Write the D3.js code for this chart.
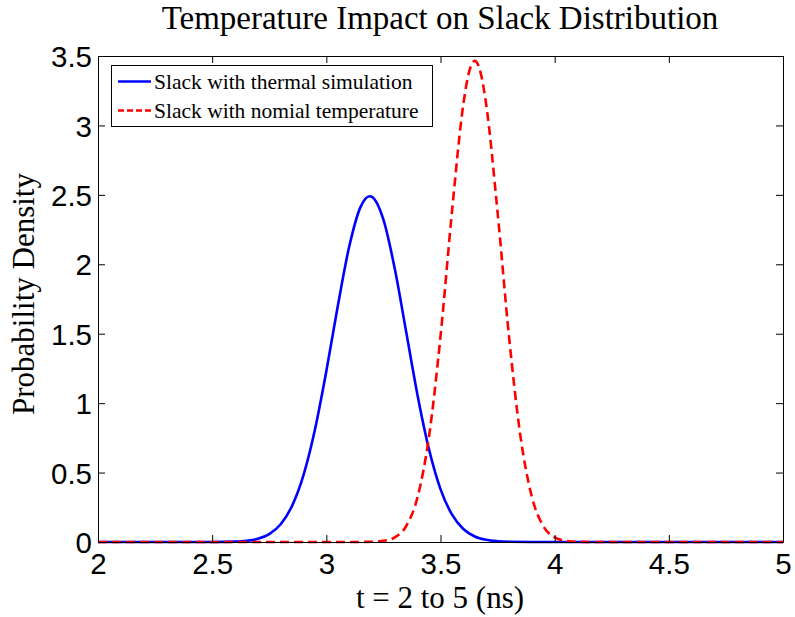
<!DOCTYPE html>
<html>
<head>
<meta charset="utf-8">
<script src="https://cdn.jsdelivr.net/npm/d3@7"></script>
<style>
  html, body { margin: 0; padding: 0; background: #fff; }
  svg { display: block; }
</style>
</head>
<body>
<svg id="chart" width="795" height="617"></svg>
<script>
// ---- Data ----
const titleText = "Temperature Impact on Slack Distribution";
const xLabelText = "t = 2 to 5 (ns)";
const yLabelText = "Probability Density";
const seriesNames = ["Slack with thermal simulation", "Slack with nomial temperature"];

const xTicks = [2, 2.5, 3, 3.5, 4, 4.5, 5];
const xTickLabels = ["2", "2.5", "3", "3.5", "4", "4.5", "5"];
const yTicks = [0, 0.5, 1, 1.5, 2, 2.5, 3, 3.5];
const yTickLabels = ["0", "0.5", "1", "1.5", "2", "2.5", "3", "3.5"];

// thermal simulation (blue)
const thermalX = [2, 2.5, 2.6, 2.65, 2.7, 2.75, 2.8, 2.85, 2.9, 2.95, 3.0, 3.05, 3.1, 3.15, 3.19, 3.2, 3.25, 3.3, 3.35, 3.4, 3.45, 3.5, 3.55, 3.6, 3.65, 3.7, 3.75, 3.8, 3.9, 4.0, 4.5, 5];
const thermalY = [0, 0, 0.0028, 0.0084, 0.0229, 0.0568, 0.1276, 0.2605, 0.4819, 0.8085, 1.2303, 1.698, 2.1257, 2.4133, 2.49, 2.4851, 2.321, 1.9659, 1.5102, 1.0523, 0.6651, 0.381, 0.1982, 0.0934, 0.0399, 0.0155, 0.0055, 0.0017, 0.0002, 0, 0, 0];

// nominal temperature (red dashed)
const nominalX = [2, 2.5, 3.0, 3.1, 3.2, 3.25, 3.3, 3.35, 3.4, 3.45, 3.5, 3.55, 3.6, 3.625, 3.65, 3.675, 3.7, 3.75, 3.8, 3.85, 3.9, 3.95, 4.0, 4.05, 4.1, 4.2, 4.5, 5];
const nominalY = [0, 0, 0, 0.0001, 0.0016, 0.0082, 0.0337, 0.1153, 0.3262, 0.7637, 1.480, 2.374, 3.152, 3.384, 3.465, 3.384, 3.152, 2.374, 1.480, 0.7637, 0.3262, 0.1153, 0.0337, 0.0082, 0.0016, 0.0001, 0, 0];

// ---- Layout ----
const svg = d3.select("#chart");
const plot = { left: 98, right: 783, top: 56, bottom: 542 };

const x = d3.scaleLinear().domain([2, 5]).range([plot.left, plot.right]);
const y = d3.scaleLinear().domain([0, 3.5]).range([plot.bottom, plot.top]);

const serif = "'Liberation Serif', 'Times New Roman', serif";
const sans = "'Liberation Sans', Arial, sans-serif";

// Curves
const line = d3.line()
  .x(d => x(d[0]))
  .y(d => y(d[1]))
  .curve(d3.curveMonotoneX);

const thermal = thermalX.map((v, i) => [v, thermalY[i]]);
const nominal = nominalX.map((v, i) => [v, nominalY[i]]);

const g = svg.append("g");

g.append("path")
  .datum(thermal)
  .attr("d", line)
  .attr("fill", "none")
  .attr("stroke", "#0000ff")
  .attr("stroke-width", 2.6);

g.append("path")
  .datum(nominal)
  .attr("d", line)
  .attr("fill", "none")
  .attr("stroke", "#ff0000")
  .attr("stroke-width", 2.6)
  .attr("stroke-dasharray", "9,5");

// Axes (MATLAB style box with inward ticks)
const tickLen = 7;
const axisColor = "#000";

const xAxisB = d3.axisBottom(x).tickValues(xTicks).tickFormat((d, i) => xTickLabels[i])
  .tickSizeInner(-tickLen).tickSizeOuter(0).tickPadding(11);
const xAxisT = d3.axisTop(x).tickValues(xTicks).tickFormat("")
  .tickSizeInner(-tickLen).tickSizeOuter(0);
const yAxisL = d3.axisLeft(y).tickValues(yTicks).tickFormat((d, i) => yTickLabels[i])
  .tickSizeInner(-tickLen).tickSizeOuter(0).tickPadding(6);
const yAxisR = d3.axisRight(y).tickValues(yTicks).tickFormat("")
  .tickSizeInner(-tickLen).tickSizeOuter(0);

function style(sel) {
  sel.selectAll("path.domain").attr("stroke", axisColor).attr("stroke-width", 1);
  sel.selectAll(".tick line").attr("stroke", axisColor).attr("stroke-width", 1);
  sel.selectAll(".tick text").attr("fill", "#000").style("font-family", sans).style("font-size", "29.5px");
}

svg.append("g").attr("transform", `translate(0,${plot.bottom})`).call(xAxisB).call(style)
  .selectAll(".tick text").attr("dy", "0.72em");
svg.append("g").attr("transform", `translate(0,${plot.top})`).call(xAxisT).call(style);
svg.append("g").attr("transform", `translate(${plot.left},0)`).call(yAxisL).call(style)
  .selectAll(".tick text").attr("dy", "0.36em");
svg.append("g").attr("transform", `translate(${plot.right},0)`).call(yAxisR).call(style);

// Title and axis labels
svg.append("text")
  .attr("x", 440)
  .attr("y", 29)
  .attr("text-anchor", "middle")
  .style("font-family", serif)
  .style("font-size", "33px")
  .text(titleText);

svg.append("text")
  .attr("x", 440)
  .attr("y", 608)
  .attr("text-anchor", "middle")
  .style("font-family", serif)
  .style("font-size", "31px")
  .text(xLabelText);

svg.append("text")
  .attr("transform", `translate(34,294) rotate(-90)`)
  .attr("text-anchor", "middle")
  .style("font-family", serif)
  .style("font-size", "31px")
  .text(yLabelText);

// Legend
const legend = svg.append("g");
legend.append("rect")
  .attr("x", 111.5).attr("y", 65.5)
  .attr("width", 321).attr("height", 61)
  .attr("fill", "#fff")
  .attr("stroke", "#000")
  .attr("stroke-width", 1);

const legendItems = [
  { name: seriesNames[0], color: "#0000ff", dash: null, yy: 81.5 },
  { name: seriesNames[1], color: "#ff0000", dash: "6,3", yy: 110.5 }
];
legendItems.forEach(it => {
  legend.append("line")
    .attr("x1", 118).attr("x2", 151)
    .attr("y1", it.yy).attr("y2", it.yy)
    .attr("stroke", it.color)
    .attr("stroke-width", 2.6)
    .attr("stroke-dasharray", it.dash);
  legend.append("text")
    .attr("x", 154).attr("y", it.yy)
    .attr("dy", "0.33em")
    .style("font-family", serif)
    .style("font-size", "21.5px")
    .text(it.name);
});
</script>
</body>
</html>
